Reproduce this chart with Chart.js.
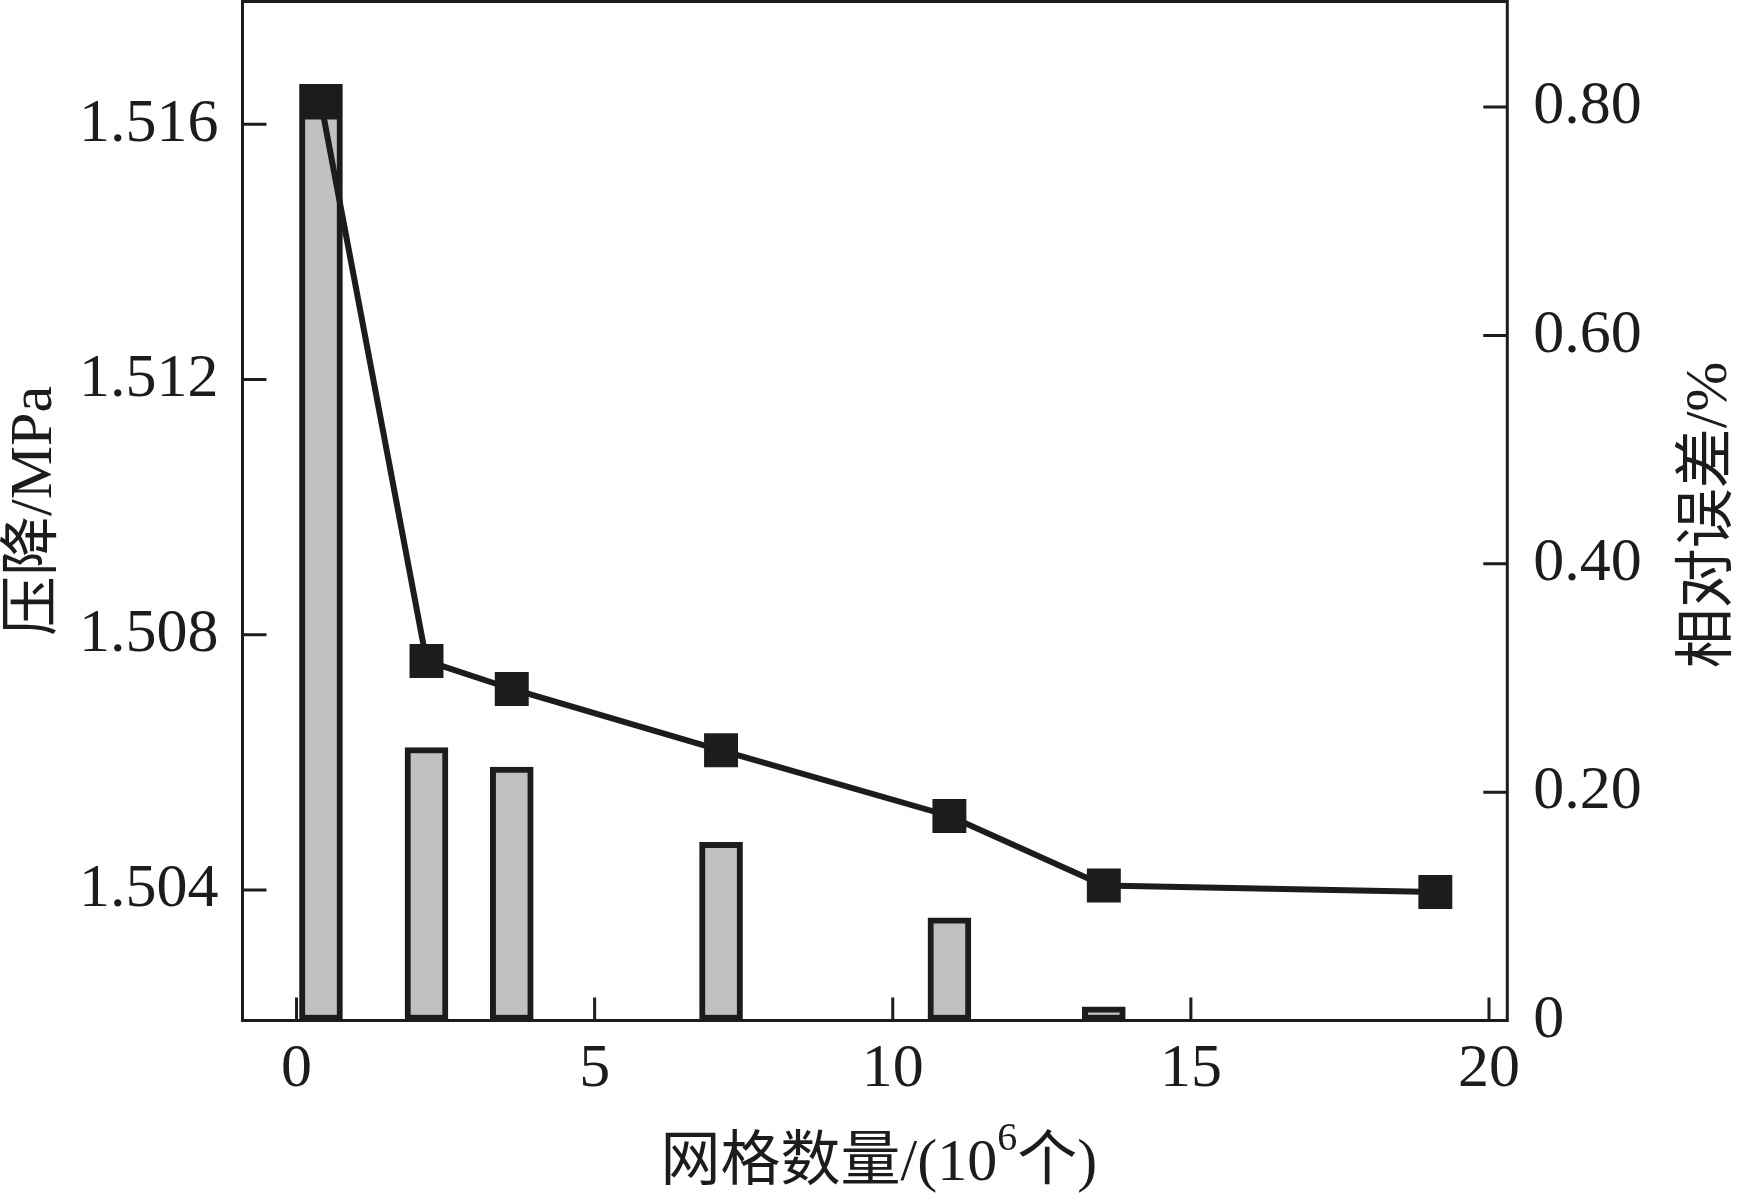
<!DOCTYPE html>
<html>
<head>
<meta charset="utf-8">
<script src="https://cdn.jsdelivr.net/npm/chart.js@4"></script>
<style>
  html, body { margin: 0; padding: 0; background: #fff; }
  #wrap { width: 1750px; height: 1201px; }
</style>
</head>
<body>
<div id="wrap"><canvas id="c"></canvas></div>
<script>
// grid independence check: pressure drop (line, left axis) vs relative error (bars, right axis)
const gridCount = [0.41, 2.18, 3.61, 7.12, 10.95, 13.54, 19.10];          // 10^6 cells
const pressureDrop = [1.51634, 1.50759, 1.50715, 1.50619, 1.50516, 1.50407, 1.50397]; // MPa
const relError = [0.820, 0.239, 0.222, 0.156, 0.090, 0.012, 0];          // %
const xTicks = [0, 5, 10, 15, 20];
const pTicks = [1.504, 1.508, 1.512, 1.516];
const eTicks = [0, 0.2, 0.4, 0.6, 0.8];
const eTickLabels = ["0", "0.20", "0.40", "0.60", "0.80"];
const yTitle = "压降/MPa";
const y1Title = "相对误差/%";
const xTitle = ["网格数量/(10", "6", "个)"];   // base, superscript, tail

const INK = "#1c1c1c";
const FONT = "'Liberation Serif', 'Noto Sans CJK SC', serif";

function vText(ctx, text, x, y) {
  ctx.save(); ctx.translate(x, y); ctx.rotate(-Math.PI / 2);
  ctx.textAlign = "center"; ctx.textBaseline = "middle";
  ctx.fillText(text, 0, 0); ctx.restore();
}

// frame, inward tick marks and axis titles
const frame = {
  id: "frame",
  afterDatasetsDraw(chart) {
    const { ctx, chartArea: a, scales } = chart;
    ctx.save();
    ctx.strokeStyle = INK; ctx.lineWidth = 3;
    ctx.strokeRect(a.left, a.top, a.right - a.left, a.bottom - a.top);
    ctx.beginPath();
    scales.x.ticks.forEach(t => { const p = scales.x.getPixelForValue(t.value); ctx.moveTo(p, a.bottom); ctx.lineTo(p, a.bottom - 23); });
    scales.y.ticks.forEach(t => { const p = scales.y.getPixelForValue(t.value); ctx.moveTo(a.left, p); ctx.lineTo(a.left + 24, p); });
    scales.y1.ticks.forEach(t => { const p = scales.y1.getPixelForValue(t.value); ctx.moveTo(a.right, p); ctx.lineTo(a.right - 24, p); });
    ctx.stroke();

    ctx.fillStyle = INK;
    ctx.font = `60px ${FONT}`;
    vText(ctx, yTitle, 35, (a.top + a.bottom) / 2);
    vText(ctx, y1Title, 1710, (a.top + a.bottom) / 2 + 4);

    // x title with superscript
    ctx.textBaseline = "alphabetic"; ctx.textAlign = "left";
    ctx.font = `60px ${FONT}`; const w1 = ctx.measureText(xTitle[0]).width, w3 = ctx.measureText(xTitle[2]).width;
    ctx.font = `40px ${FONT}`; const w2 = ctx.measureText(xTitle[1]).width;
    let x = (a.left + a.right) / 2 + 4 - (w1 + w2 + w3) / 2;
    const base = 1180;
    ctx.font = `60px ${FONT}`; ctx.fillText(xTitle[0], x, base); x += w1;
    ctx.font = `40px ${FONT}`; ctx.fillText(xTitle[1], x, base - 30); x += w2;
    ctx.font = `60px ${FONT}`; ctx.fillText(xTitle[2], x, base);
    ctx.restore();
  }
};

const tickFont = { family: FONT, size: 62 };

new Chart(document.getElementById("c"), {
  type: "bar",
  data: {
    datasets: [
      {
        type: "line", label: "压降", yAxisID: "y", order: 1,
        data: gridCount.map((x, i) => ({ x, y: pressureDrop[i] })),
        borderColor: INK, borderWidth: 6, tension: 0,
        pointStyle: "rect", pointRadius: 24, pointBackgroundColor: INK, pointBorderWidth: 0,
      },
      {
        type: "bar", label: "相对误差", yAxisID: "y1", order: 2,
        data: gridCount.map((x, i) => ({ x, y: relError[i] })),
        backgroundColor: "#c0c0c0", borderColor: INK, borderWidth: 6, borderSkipped: false, barThickness: 43,
      },
    ],
  },
  options: {
    responsive: true, maintainAspectRatio: false, animation: false, devicePixelRatio: 1,
    layout: { autoPadding: false, padding: { top: 1.5, left: 0, right: 0, bottom: 0 } },
    plugins: { legend: { display: false }, tooltip: { enabled: false } },
    scales: {
      x: {
        type: "linear", offset: false, min: -0.906, max: 20.307,
        afterBuildTicks: s => { s.ticks = xTicks.map(v => ({ value: v })); },
        afterFit: s => { s.height = 180.5; s.paddingLeft = 0; s.paddingRight = 0; },
        grid: { display: false, drawTicks: false }, border: { display: false },
        ticks: { padding: 12, color: INK, font: tickFont, maxRotation: 0 },
      },
      y: {
        position: "left", min: 1.501955, max: 1.517924,
        afterBuildTicks: s => { s.ticks = pTicks.map(v => ({ value: v })); },
        afterFit: s => { s.width = 242.5; s.paddingTop = 0; s.paddingBottom = 0; },
        grid: { display: false, drawTicks: false }, border: { display: false },
        ticks: { padding: 24, color: INK, font: tickFont, callback: v => v.toFixed(3) },
      },
      y1: {
        position: "right", min: 0, max: 0.8925,
        afterBuildTicks: s => { s.ticks = eTicks.map(v => ({ value: v })); },
        afterFit: s => { s.width = 242.7; s.paddingTop = 0; s.paddingBottom = 0; },
        grid: { display: false, drawTicks: false }, border: { display: false },
        ticks: { padding: 26, color: INK, font: tickFont, callback: (v, i) => eTickLabels[i] },
      },
    },
  },
  plugins: [frame],
});
</script>
</body>
</html>
